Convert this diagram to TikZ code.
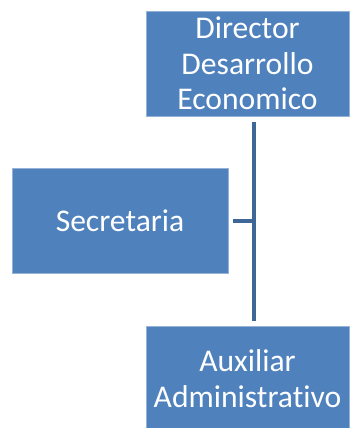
\documentclass[tikz,border=0pt]{standalone}
\usepackage{fontspec}
\setmainfont{Carlito}[Ligatures=NoCommon]
\definecolor{boxblue}{RGB}{79,129,189}
\definecolor{lineblue}{RGB}{62,102,150}
\begin{document}
\begin{tikzpicture}[x=1pt,y=1pt,
  orgbox/.style={fill=boxblue,draw=boxblue!60!white,line width=0.6pt,text=white,align=center,inner sep=0pt,
    font=\fontsize{31.6}{35.5}\selectfont},
  conn/.style={draw=lineblue,line width=4pt}]
\useasboundingbox (0,0) rectangle (352,-428);
\begin{scope}
\clip (0,0) rectangle (352,-428);
\node[orgbox,minimum width=203pt,minimum height=105pt] (dir) at (247.5,-63.5) {Director\\Desarrollo\\Economico};
\node[orgbox,minimum width=216pt,minimum height=105pt] (sec) at (120,-220.5) {Secretaria};
\node[orgbox,minimum width=203pt,minimum height=105pt] (aux) at (247.5,-378.5) {Auxiliar\\Administrativo};
\coordinate (vtop) at ([xshift=6.5pt,yshift=-6pt]dir.south);
\coordinate (vbot) at ([xshift=6.5pt,yshift=5pt]aux.north);
\draw[conn] (vtop) -- (vbot);
\draw[conn] ([xshift=5pt]sec.east) -- (sec.east -| vtop);
\end{scope}
\end{tikzpicture}
\end{document}
